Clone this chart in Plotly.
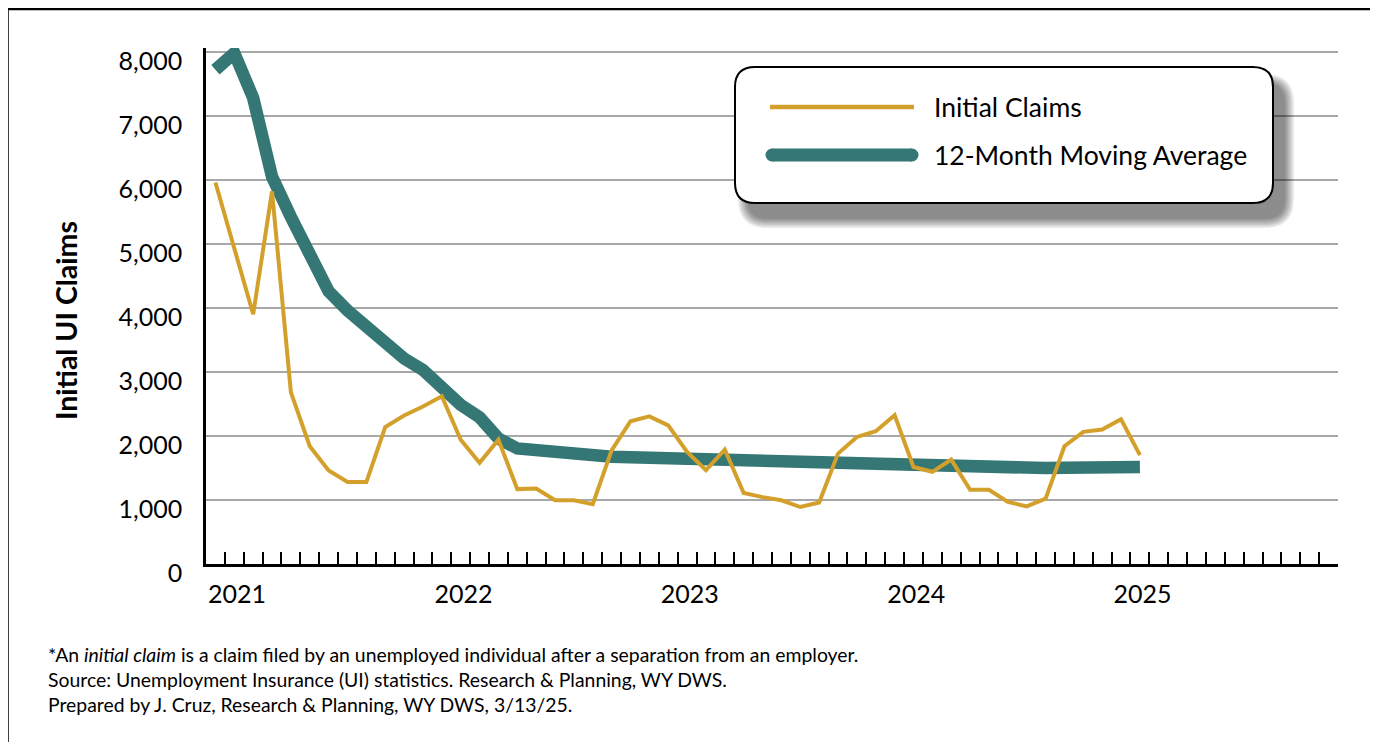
import plotly.graph_objects as go

# ---------------- data ----------------
years = ["2021", "2022", "2023", "2024", "2025"]
month_names = ["Jan", "Feb", "Mar", "Apr", "May", "Jun", "Jul", "Aug", "Sep", "Oct", "Nov", "Dec"]
months = [f"{m} {y}" for y in ["2021", "2022", "2023", "2024"] for m in month_names] + ["Jan 2025", "Feb 2025"]

initial_claims = [
    5960, 4930, 3900, 5820, 2680, 1840, 1460, 1280, 1280, 2140,
    2320, 2460, 2620, 1940, 1580, 1940, 1170, 1180, 995, 995,
    935, 1775, 2230, 2305, 2165, 1750, 1465, 1785, 1110, 1045,
    995, 890, 960, 1725, 1985, 2075, 2325, 1515, 1440, 1630,
    1160, 1160, 970, 900, 1020, 1840, 2065, 2100, 2260, 1700,
]
moving_avg = [
    7720, 7980, 7280, 6050, 5420, 4860, 4260, 3960, 3710, 3435,
    3210, 3030, 2745, 2485, 2290, 1960, 1805, 1770, 1740, 1715,
    1690, 1675, 1668, 1660, 1635, 1620, 1605, 1595, 1585, 1578,
    1575, 1574, 1573, 1565, 1550, 1538, 1537, 1528, 1516, 1500,
    1482, 1488, 1490, 1495, 1498, 1502, 1506, 1510, 1512, 1515,
]
footnotes = [
    "*An <i>initial claim</i> is a claim filed by an unemployed individual after a separation from an employer.",
    "Source: Unemployment Insurance (UI) statistics. Research & Planning, WY DWS.",
    "Prepared by J. Cruz, Research & Planning, WY DWS, 3/13/25.",
]

GOLD = "#D4A02C"
TEAL = "#347774"
FONT = "Lato"

# ---------------- geometry helpers (screen pixels; page body adds an 8px offset) ----------------
OFF = 8
W, H = 1370, 734
L, R, T, B = 198, 40, 40, 178
PW, PH = W - L - R, H - T - B


def X(p):
    return (p - OFF - L) / PW


def Y(p):
    return (H - B - (p - OFF)) / PH


def rrect(x0, y0, x1, y1, r):
    return (f"M {X(x0 + r)},{Y(y0)} L {X(x1 - r)},{Y(y0)} Q {X(x1)},{Y(y0)} {X(x1)},{Y(y0 + r)} "
            f"L {X(x1)},{Y(y1 - r)} Q {X(x1)},{Y(y1)} {X(x1 - r)},{Y(y1)} "
            f"L {X(x0 + r)},{Y(y1)} Q {X(x0)},{Y(y1)} {X(x0)},{Y(y1 - r)} "
            f"L {X(x0)},{Y(y0 + r)} Q {X(x0)},{Y(y0)} {X(x0 + r)},{Y(y0)} Z")


xpos = [i + 0.5 for i in range(len(months))]

fig = go.Figure()
fig.add_trace(go.Scatter(
    x=xpos, y=moving_avg, mode="lines", name="12-Month Moving Average",
    line=dict(color=TEAL, width=12.5), showlegend=False, hovertext=months,
))
fig.add_trace(go.Scatter(
    x=xpos, y=initial_claims, mode="lines", name="Initial Claims",
    line=dict(color=GOLD, width=4), showlegend=False, hovertext=months,
))

fig.update_layout(
    width=W, height=H,
    margin=dict(l=L, r=R, t=T, b=B),
    paper_bgcolor="white", plot_bgcolor="white",
    font=dict(family=FONT, color="black"),
)

fig.update_xaxes(
    range=[0, 60], showgrid=False, zeroline=False,
    showline=True, linecolor="black", linewidth=2.5,
    tickmode="array", tickvals=[12 * k for k in range(len(years))], ticktext=years,
    ticks="inside", ticklen=12, tickwidth=2, tickcolor="black",
    ticklabelshift=31, ticklabelstandoff=6,
    tickfont=dict(size=25, family=FONT, color="black"),
    minor=dict(tickmode="linear", tick0=0, dtick=1, ticks="inside", ticklen=12,
               tickwidth=2, tickcolor="black", showgrid=False),
)
fig.update_yaxes(
    range=[0, 8060], tickmode="linear", tick0=0, dtick=1000, tickformat=",d",
    showgrid=True, gridcolor="#A8A8A8", gridwidth=1.5, zeroline=False,
    showline=True, linecolor="black", linewidth=2.5,
    ticks="", ticklabelshift=9, ticklabelstandoff=16,
    tickfont=dict(size=25, family=FONT, color="black"),
)

shapes = []
# frame
shapes.append(dict(type="line", xref="paper", yref="paper", x0=X(6), x1=X(W + OFF), y0=Y(9), y1=Y(9),
                   line=dict(color="black", width=2.5)))
shapes.append(dict(type="line", xref="paper", yref="paper", x0=X(7.5), x1=X(7.5), y0=Y(9), y1=Y(H + OFF),
                   line=dict(color="black", width=2.5)))
shapes.append(dict(type="line", xref="paper", yref="paper", x0=X(1376.5), x1=X(1376.5), y0=Y(9), y1=Y(H + OFF),
                   line=dict(color="black", width=1.5)))

# legend box with shadow
bx0, by0, bx1, by1, br = 735, 67, 1273, 203, 20
for j in range(7):
    inf = 9 - 1.5 * j
    shapes.append(dict(type="path", xref="paper", yref="paper",
                       path=rrect(bx0 + 12 - inf, by0 + 16 - inf, bx1 + 12 + inf, by1 + 16 + inf, br + inf),
                       fillcolor="black", opacity=0.08, line=dict(width=0)))
shapes.append(dict(type="path", xref="paper", yref="paper", path=rrect(bx0, by0, bx1, by1, br),
                   fillcolor="white", line=dict(color="black", width=2)))
# legend samples
shapes.append(dict(type="line", xref="paper", yref="paper", x0=X(770), x1=X(914), y0=Y(107), y1=Y(107),
                   line=dict(color=GOLD, width=4.5)))
shapes.append(dict(type="line", xref="paper", yref="paper", x0=X(772), x1=X(912), y0=Y(155), y1=Y(155),
                   line=dict(color=TEAL, width=13)))
for cx in (772, 912):
    shapes.append(dict(type="circle", xref="paper", yref="paper", x0=X(cx - 6.5), x1=X(cx + 6.5),
                       y0=Y(155 + 6.5), y1=Y(155 - 6.5), fillcolor=TEAL, line=dict(width=0)))
fig.update_layout(shapes=shapes)

ann = []
ann.append(dict(xref="paper", yref="paper", x=X(932), y=Y(107), xanchor="left", yanchor="middle",
                text="Initial Claims", showarrow=False, font=dict(size=26.5, family=FONT, color="black")))
ann.append(dict(xref="paper", yref="paper", x=X(932), y=Y(155), xanchor="left", yanchor="middle",
                text="12-Month Moving Average", showarrow=False, font=dict(size=26.5, family=FONT, color="black")))
ann.append(dict(xref="paper", yref="paper", x=X(66), y=Y(321), xanchor="center", yanchor="middle",
                text="<b>Initial UI Claims</b>", textangle=-90, showarrow=False,
                font=dict(size=28.5, family=FONT, color="black")))
for k, line in enumerate(footnotes):
    ann.append(dict(xref="paper", yref="paper", x=X(46), y=Y(654 + 25 * k), xanchor="left", yanchor="middle",
                    text=line, showarrow=False, font=dict(size=19.4, family=FONT, color="black")))
fig.update_layout(annotations=ann)

fig.write_html("out.html")
